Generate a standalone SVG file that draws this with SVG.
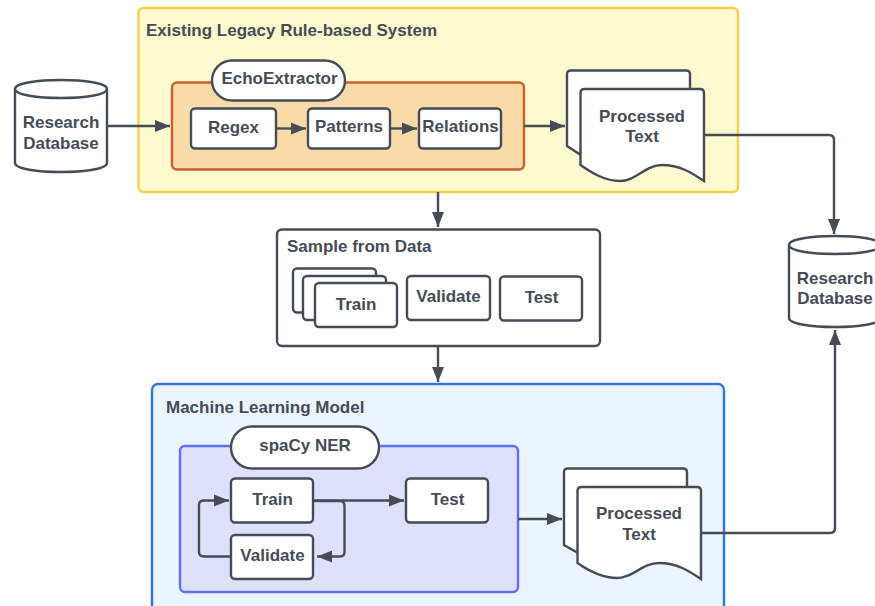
<svg xmlns="http://www.w3.org/2000/svg" width="875" height="606" viewBox="0 0 875 606">
<style>
text{font-family:"Liberation Sans",Arial,sans-serif;font-weight:700;font-size:17px;fill:#454c56;text-anchor:middle}
.t{text-anchor:start}
.n{fill:#fff;stroke:#454c56;stroke-width:2.4}
.c{fill:none;stroke:#454c56;stroke-width:2.4;stroke-linejoin:round}
</style>
<defs>
<marker id="a" markerUnits="userSpaceOnUse" markerWidth="16" markerHeight="14" refX="15" refY="7" orient="auto"><path d="M0 1L15 7L0 13Z" fill="#454c56"/></marker>
</defs>
<g id="legacy"><rect x="138.500" y="8" width="599.500" height="184" rx="5" fill="#fdfacf" stroke="#f7cf4f" stroke-width="2.400"/><text class="t" x="146" y="35.500">Existing Legacy Rule-based System</text></g>
<g id="echo-group"><rect x="172" y="82.500" width="352" height="87" rx="5" fill="#f9dbaa" stroke="#c9602a" stroke-width="2.400"/></g>
<g id="sample"><rect class="n" x="277" y="229.500" width="323" height="116.500" rx="5"/><text class="t" x="287" y="252">Sample from Data</text></g>
<g id="ml"><rect x="152" y="384" width="572" height="240" rx="6" fill="#ecf4ff" stroke="#2f74e0" stroke-width="2.400"/><text class="t" x="166" y="413">Machine Learning Model</text></g>
<g id="spacy-group"><rect x="180" y="446" width="338" height="146" rx="5" fill="#dfe0fc" stroke="#6070f0" stroke-width="2.400"/></g>
<g id="connectors">
<path class="c" marker-end="url(#a)" d="M107 126H170"/>
<path class="c" marker-end="url(#a)" d="M276 128.500H306"/>
<path class="c" marker-end="url(#a)" d="M390 128.500H417"/>
<path class="c" marker-end="url(#a)" d="M524 126H565"/>
<path class="c" marker-end="url(#a)" d="M704 135H829Q834 135 834 140V234"/>
<path class="c" marker-end="url(#a)" d="M438 192V227"/>
<path class="c" marker-end="url(#a)" d="M438 346V382"/>
<path class="c" marker-end="url(#a)" d="M518 519H562"/>
<path class="c" marker-end="url(#a)" d="M701 533H830Q835 533 835 528V330"/>
<path class="c" marker-end="url(#a)" d="M313 500.500H404"/>
<path class="c" marker-end="url(#a)" d="M313 501H340Q344.500 501 344.500 506V552Q344.500 556.500 340 556.500H317"/>
<path class="c" marker-end="url(#a)" d="M231 556.500H204Q199 556.500 199 552V505Q199 500.500 204 500.500H229"/>
</g>
<g id="db-left"><path class="n" d="M15 89V163C15 169 38 172 61 172S107 169 107 163V89C107 83 84 80 61 80S15 83 15 89C15 95 38 98 61 98S107 95 107 89"/><text x="61" y="128">Research</text><text x="61" y="148.500">Database</text></g>
<g id="db-right"><path class="n" d="M789 245V318C789 324 812 327 835 327S881 324 881 318V245C881 239 858 236 835 236S789 239 789 245C789 251 812 254 835 254S881 251 881 245"/><text x="835" y="283.500">Research</text><text x="835" y="304">Database</text></g>
<g id="echo-pill"><rect class="n" x="212" y="60.500" width="133" height="40" rx="20"/><text x="279.500" y="84">EchoExtractor</text></g>
<g id="regex"><rect class="n" x="191" y="108.500" width="85" height="40" rx="4"/><text x="233.500" y="132.500">Regex</text></g>
<g id="patterns"><rect class="n" x="308" y="108.500" width="82" height="40" rx="4"/><text x="349" y="132">Patterns</text></g>
<g id="relations"><rect class="n" x="419" y="108.500" width="82" height="40" rx="4"/><text x="460.500" y="132">Relations</text></g>
<g id="doc-top">
<path class="n" d="M567 74Q567 70.500 571 70.500H686Q690 70.500 690 74V150H581V155L567 146Z"/>
<path class="n" d="M580.500 93Q580.500 89 584.500 89H700Q704 89 704 93V181C692 173 680 165 662 165C645 165 636 181 620 181C605 181 592 173 580.500 165Z"/>
<text x="642" y="121.500">Processed</text><text x="642" y="142">Text</text></g>
<g id="train-data"><rect class="n" x="293" y="268.500" width="83" height="44" rx="4"/><rect class="n" x="303" y="276" width="83" height="44" rx="4"/><rect class="n" x="315" y="283" width="82" height="44" rx="4"/><text x="356" y="309.500">Train</text></g>
<g id="validate-data"><rect class="n" x="407" y="276" width="83" height="44" rx="4"/><text x="448.500" y="301.500">Validate</text></g>
<g id="test-data"><rect class="n" x="500" y="276.500" width="82" height="44" rx="4"/><text x="541.500" y="302.500">Test</text></g>
<g id="spacy-pill"><rect class="n" x="231" y="426.500" width="148" height="42" rx="21"/><text x="305" y="451">spaCy NER</text></g>
<g id="train"><rect class="n" x="231" y="478.500" width="82" height="44" rx="4"/><text x="272.500" y="504.500">Train</text></g>
<g id="validate"><rect class="n" x="231" y="535" width="82" height="44" rx="4"/><text x="272.500" y="560.500">Validate</text></g>
<g id="test"><rect class="n" x="406" y="478.500" width="82" height="44" rx="4"/><text x="447.500" y="504.500">Test</text></g>
<g id="doc-bottom">
<path class="n" d="M564 472Q564 468.500 568 468.500H683Q687 468.500 687 472V548H578V553L564 545Z"/>
<path class="n" d="M577.500 491Q577.500 487 581.500 487H697Q701 487 701 491V579C689 571 677 563 659 563C642 563 633 578 617 578C602 578 589 571 577.500 563Z"/>
<text x="639" y="519">Processed</text><text x="639" y="540">Text</text></g>
</svg>
